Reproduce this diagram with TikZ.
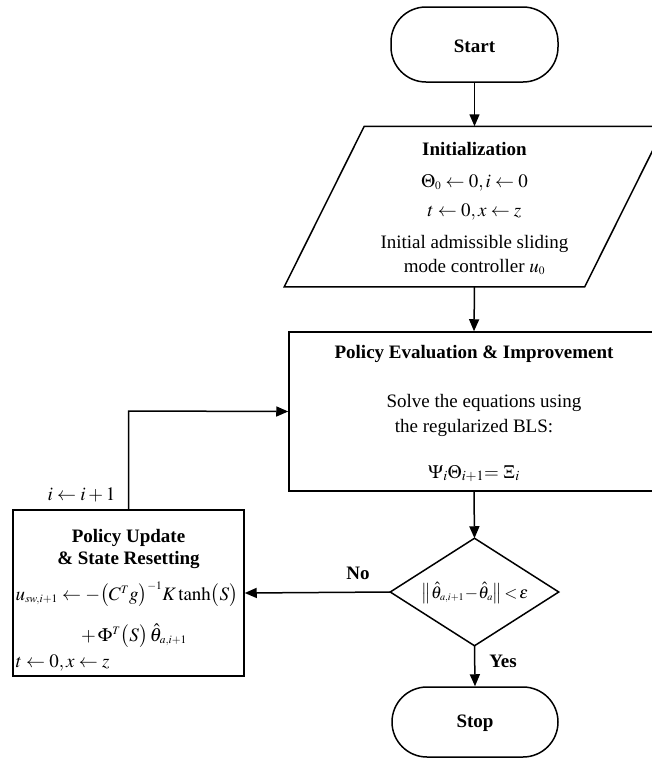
\documentclass[tikz,border=0pt]{standalone}
\usepackage{mathptmx}
\usepackage[no-math]{fontspec}
\setmainfont{Liberation Serif}
\usetikzlibrary{arrows.meta}
\begin{document}
\begin{tikzpicture}[x=1pt,y=-1pt,line width=1.5pt,
  every node/.style={font=\fontsize{19}{23}\selectfont,inner sep=0pt},
  arr/.style={-{Triangle[length=12pt,width=10pt]}},
  term/.style={draw,rounded corners=35pt,minimum width=167pt,font=\fontsize{19}{23}\selectfont\bfseries},
  boxn/.style={draw,rectangle},
  txt/.style={anchor=base},
  lbl/.style={anchor=base,font=\fontsize{19}{23}\selectfont\bfseries}]
\useasboundingbox (0,0) rectangle (652,758);
\clip (0,0) rectangle (652,758);
% Start
\node[term,minimum height=75pt] (start) at (474.5,44.5) {};
\node[lbl] (starttxt) at (474.5,52) {Start};
% Initialization parallelogram
\node[minimum width=379pt,minimum height=159pt] (init) at (474.5,206.5) {};
\draw (init.south west) -- ([xshift=80pt]init.north west) -- (init.north east) -- ([xshift=-80pt]init.south east) -- cycle;
\node[lbl] (i1) at (474.5,155) {Initialization};
\node[txt] (i2) at (474.5,187) {$\Theta_{\scriptscriptstyle 0}\leftarrow 0, i\leftarrow 0$};
\node[txt] (i3) at (474.5,216) {$t\leftarrow 0, x\leftarrow z$};
\node[txt] (i4) at (474.5,248) {Initial admissible sliding};
\node[txt] (i5) at (474.5,272) {mode controller $u_{\scriptscriptstyle 0}$};
% Policy evaluation box
\node[boxn,minimum width=370pt,minimum height=159pt] (pe) at (474,411.5) {};
\node[lbl] (p1) at (474,358) {Policy Evaluation \& Improvement};
\node[txt] (p2) at (484,407) {Solve the equations using};
\node[txt] (p3) at (474,432) {the regularized BLS:};
\node[txt] (p4) at (474,478) {$\Psi_i\Theta_{i+1}{=}\;\Xi_i$};
% Decision diamond
\node[minimum width=167pt,minimum height=106pt] (dec) at (474.5,592) {};
\draw (dec.north) -- (dec.east) -- (dec.south) -- (dec.west) -- cycle;
\node[txt,font=\fontsize{17}{20}\selectfont] (dtxt) at (475,598) {$\left\|\hat{\theta}_{\scriptscriptstyle a,i+1}\!-\!\hat{\theta}_{\scriptscriptstyle a}\right\|\!<\!\varepsilon$};
% Stop
\node[term,minimum height=70pt,minimum width=166pt] (stop) at (475,722) {};
\node[lbl] (stoptxt) at (475,727) {Stop};
% Policy update box
\node[boxn,minimum width=231pt,minimum height=166pt] (pu) at (128.5,593) {};
\node[lbl] (u1) at (128.5,542) {Policy Update};
\node[lbl] (u2) at (128.5,564) {\& State Resetting};
\node[txt,anchor=base west] (u3) at (15,600) {$u_{\scriptscriptstyle sw,i+1}\leftarrow{-}\bigl(C^{\scriptscriptstyle T}g\bigr)^{\scriptscriptstyle -1}K\tanh\bigl(S\bigr)$};
\node[txt] (u4) at (134,641) {$+\,\Phi^{\scriptscriptstyle T}\bigl(S\bigr)\,\hat{\theta}_{\scriptscriptstyle a,i+1}$};
\node[txt,anchor=base west] (u5) at (15,667) {$t\leftarrow 0, x\leftarrow z$};
% connectors
\draw[arr] (start) -- (init.north);
\draw[arr] (init.south) -- (pe.north);
\draw[arr] (pe.south) -- (dec.north);
\draw[arr] (dec.south) -- (stop.north);
\draw[arr] (dec.west) -- (pu.east);
\coordinate (bend) at (128.5,411);
\draw[arr] (pu.north) -- (bend) -- (pe.west);
% labels
\node[lbl] (no) at (358,579) {No};
\node[lbl] (yes) at (503,667) {Yes};
\node[txt,anchor=base east] (inc) at (116,500) {$i\leftarrow i+1$};
\end{tikzpicture}
\end{document}
